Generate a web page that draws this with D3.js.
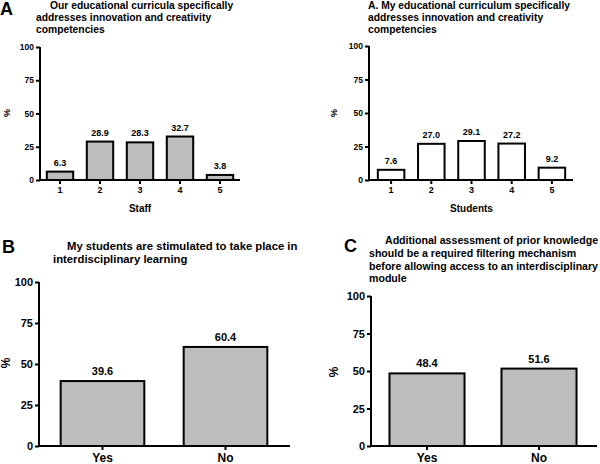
<!DOCTYPE html>
<html><head><meta charset="utf-8">
<script src="https://cdn.jsdelivr.net/npm/d3@7"></script>
<style>
html,body{margin:0;padding:0;background:#fff;}
svg text{font-family:"Liberation Sans",Arial,sans-serif;font-weight:bold;fill:#000;}
</style></head>
<body>
<svg id="chart" width="600" height="464"></svg>
<script>
// ---- data ----
const scaleCats = ["1", "2", "3", "4", "5"];
const staffValues = [6.3, 28.9, 28.3, 32.7, 3.8];
const studentValues = [7.6, 27.0, 29.1, 27.2, 9.2];
const yesNoCats = ["Yes", "No"];
const stimulatedValues = [39.6, 60.4];
const assessmentValues = [48.4, 51.6];
const yTickValues = [0, 25, 50, 75, 100];
const titleStaff = ["Our educational curricula specifically", "addresses innovation and creativity", "competencies"];
const titleStudents = ["A. My educational curriculum specifically", "addresses innovation and creativity", "competencies"];
const titleB = ["My students are stimulated to take place in", "interdisciplinary learning"];
const titleC = ["Additional assessment of prior knowledge", "should be a required filtering mechanism", "before allowing access to an interdisciplinary", "module"];

const svg = d3.select("#chart");

function panel(o) {
  const g = svg.append("g");
  const x = d3.scaleBand().domain(o.cats).range(o.xr).paddingInner(o.pad).paddingOuter(o.pad / 2);
  const y = d3.scaleLinear().domain([0, 100]).range(o.yr);

  // bars
  g.selectAll("rect.bar").data(o.values).enter().append("rect")
    .attr("x", (d, i) => x(o.cats[i]))
    .attr("y", d => y(d))
    .attr("width", x.bandwidth())
    .attr("height", d => y(0) - y(d))
    .attr("fill", o.fill).attr("stroke", "#000").attr("stroke-width", 2);

  // value labels
  g.selectAll("text.val").data(o.values).enter().append("text")
    .attr("x", (d, i) => x(o.cats[i]) + x.bandwidth() / 2)
    .attr("y", d => y(d) - o.valGap)
    .attr("text-anchor", "middle").style("font-size", o.valSize + "px")
    .text(d => d3.format(".1f")(d));

  // y axis
  const ya = g.append("g").attr("transform", `translate(${o.yAxisX},0)`)
    .call(d3.axisLeft(y).tickValues(yTickValues).tickSize(4).tickSizeOuter(0).tickPadding(2));
  ya.select(".domain").attr("stroke-width", 2).attr("d", `M0,${y(100)}V${y(0)}`);
  ya.selectAll(".tick line").attr("stroke-width", 2);
  ya.selectAll(".tick text").style("font-size", o.tickSize + "px");
  ya.attr("font-family", null).attr("font-size", null);

  // x axis
  const xa = g.append("g").attr("transform", `translate(0,${y(0)})`)
    .call(d3.axisBottom(x).tickSize(4).tickSizeOuter(0).tickPadding(3));
  xa.select(".domain").attr("stroke-width", 2).attr("d", `M${o.yAxisX - 1},0H${o.xEnd}`);
  xa.selectAll(".tick line").attr("stroke-width", 2);
  xa.selectAll(".tick text").style("font-size", o.xTickSize + "px");
  xa.attr("font-family", null).attr("font-size", null);

  // y label
  g.append("text").attr("transform", `translate(${o.pctX},${o.pctY}) rotate(-90)`)
    .attr("text-anchor", "middle").attr("dy", "0.35em").style("font-size", o.pctSize + "px").text("%");

  // x label
  if (o.xLabel) {
    g.append("text").attr("x", (o.xr[0] + o.xr[1]) / 2).attr("y", o.xLabelY)
      .attr("text-anchor", "middle").style("font-size", "10px").text(o.xLabel);
  }

  // title
  o.title.forEach((t, i) => {
    g.append("text").attr("x", i === 0 ? o.titleX0 : o.titleX).attr("y", o.titleY + i * o.titleLH)
      .style("font-size", o.titleSize + "px").text(t);
  });
  if (o.letter) {
    g.append("text").attr("x", o.letterX).attr("y", o.letterY).style("font-size", "18px").text(o.letter);
  }
}

panel({cats: scaleCats, values: staffValues, xr: [40, 240], pad: 0.34, yr: [180, 47], fill: "#bdbdbd",
  valGap: 6, valSize: 9, yAxisX: 40, tickSize: 8.5, xTickSize: 9, xEnd: 240, pctX: 7, pctY: 113, pctSize: 9,
  xLabel: "Staff", xLabelY: 212, title: titleStaff, titleX0: 50, titleX: 36, titleY: 9, titleLH: 12, titleSize: 10.3,
  letter: "A", letterX: 0, letterY: 15});

panel({cats: scaleCats, values: studentValues, xr: [371, 572], pad: 0.34, yr: [180, 46], fill: "#ffffff",
  valGap: 6, valSize: 9, yAxisX: 369, tickSize: 8.5, xTickSize: 9, xEnd: 573, pctX: 334, pctY: 113, pctSize: 9,
  xLabel: "Students", xLabelY: 212, title: titleStudents, titleX0: 368, titleX: 368, titleY: 9, titleLH: 12, titleSize: 10.3});

panel({cats: yesNoCats, values: stimulatedValues, xr: [41, 287], pad: 0.32, yr: [446, 282], fill: "#bdbdbd",
  valGap: 6, valSize: 11, yAxisX: 39, tickSize: 11, xTickSize: 12, xEnd: 290, pctX: 6, pctY: 363, pctSize: 12,
  title: titleB, titleX0: 67, titleX: 53, titleY: 250, titleLH: 13, titleSize: 11.3,
  letter: "B", letterX: 2, letterY: 253});

panel({cats: yesNoCats, values: assessmentValues, xr: [371, 595], pad: 0.33, yr: [446, 296], fill: "#bdbdbd",
  valGap: 6, valSize: 11, yAxisX: 371, tickSize: 11, xTickSize: 12, xEnd: 597, pctX: 334, pctY: 372, pctSize: 12,
  title: titleC, titleX0: 385, titleX: 369, titleY: 244, titleLH: 12.8, titleSize: 10.6,
  letter: "C", letterX: 344, letterY: 252});
</script>
</body></html>
